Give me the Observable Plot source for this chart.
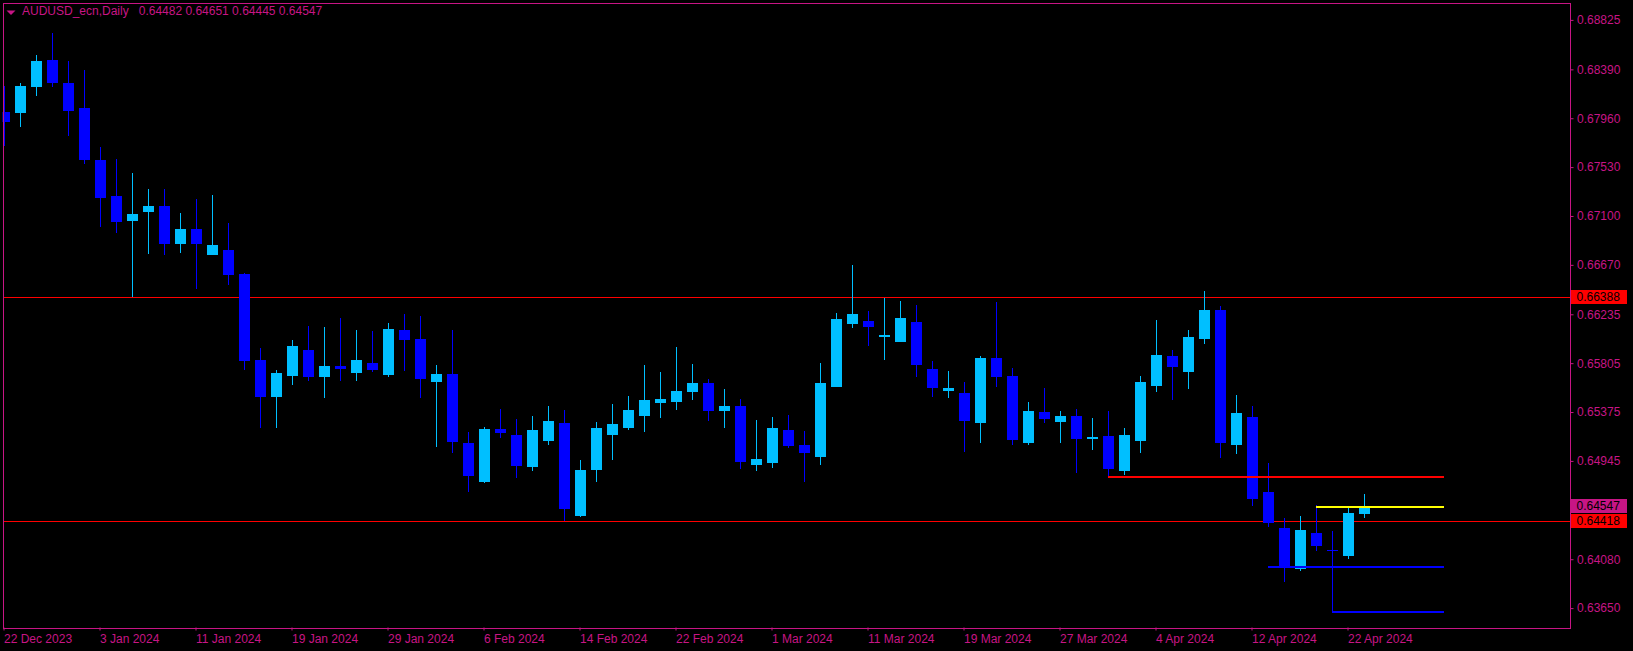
<!DOCTYPE html>
<html>
<head>
<meta charset="utf-8">
<script src="https://cdn.jsdelivr.net/npm/d3@7"></script>
<script src="https://cdn.jsdelivr.net/npm/@observablehq/plot@0.6"></script>
<style>
html, body { margin: 0; padding: 0; background: #000; overflow: hidden; }
svg { display: block; }
</style>
</head>
<body>
<script>
// ---------- data ----------
const symbol = "AUDUSD_ecn,Daily";

const dates = [
  "2023-12-22","2023-12-26","2023-12-27","2023-12-28","2023-12-29","2024-01-02","2024-01-03","2024-01-04","2024-01-05","2024-01-08",
  "2024-01-09","2024-01-10","2024-01-11","2024-01-12","2024-01-15","2024-01-16","2024-01-17","2024-01-18","2024-01-19","2024-01-22",
  "2024-01-23","2024-01-24","2024-01-25","2024-01-26","2024-01-29","2024-01-30","2024-01-31","2024-02-01","2024-02-02","2024-02-05",
  "2024-02-06","2024-02-07","2024-02-08","2024-02-09","2024-02-12","2024-02-13","2024-02-14","2024-02-15","2024-02-16","2024-02-19",
  "2024-02-20","2024-02-21","2024-02-22","2024-02-23","2024-02-26","2024-02-27","2024-02-28","2024-02-29","2024-03-01","2024-03-04",
  "2024-03-05","2024-03-06","2024-03-07","2024-03-08","2024-03-11","2024-03-12","2024-03-13","2024-03-14","2024-03-15","2024-03-18",
  "2024-03-19","2024-03-20","2024-03-21","2024-03-22","2024-03-25","2024-03-26","2024-03-27","2024-03-28","2024-03-29","2024-04-01",
  "2024-04-02","2024-04-03","2024-04-04","2024-04-05","2024-04-08","2024-04-09","2024-04-10","2024-04-11","2024-04-12","2024-04-15",
  "2024-04-16","2024-04-17","2024-04-18","2024-04-19","2024-04-22","2024-04-23"
];

const open = [
  0.68015,0.68008,0.68235,0.68472,0.68270,0.68050,0.67592,0.67276,0.67058,0.67137,
  0.67188,0.66856,0.66985,0.66759,0.66801,0.66589,0.65833,0.65507,0.65692,0.65921,
  0.65683,0.65780,0.65718,0.65806,0.65701,0.66097,0.66017,0.65639,0.65710,0.65102,
  0.64759,0.65226,0.65173,0.64891,0.65120,0.65278,0.64460,0.64865,0.65173,0.65234,
  0.65340,0.65454,0.65463,0.65551,0.65630,0.65384,0.65428,0.64909,0.64927,0.65217,
  0.65085,0.64979,0.65595,0.66149,0.66176,0.66035,0.65991,0.66167,0.65754,0.65560,
  0.65542,0.65278,0.65850,0.65692,0.65102,0.65375,0.65287,0.65340,0.65138,0.65164,
  0.64856,0.65120,0.65604,0.65868,0.65727,0.66017,0.66273,0.65085,0.65331,0.64671,
  0.64355,0.63994,0.64311,0.64165,0.64108,0.64482
];
const high = [
  0.68243,0.68272,0.68516,0.68712,0.68463,0.68384,0.67707,0.67601,0.67478,0.67337,
  0.67337,0.67126,0.67249,0.67284,0.67038,0.66596,0.65938,0.65745,0.66009,0.66132,
  0.66123,0.66202,0.66097,0.66088,0.66158,0.66237,0.66220,0.65789,0.66097,0.65199,
  0.65243,0.65402,0.65314,0.65340,0.65428,0.65393,0.64953,0.65287,0.65446,0.65516,
  0.65789,0.65727,0.65947,0.65798,0.65666,0.65578,0.65490,0.65305,0.65331,0.65349,
  0.65208,0.65806,0.66246,0.66669,0.66264,0.66378,0.66352,0.66317,0.65824,0.65736,
  0.65639,0.65868,0.66343,0.65762,0.65463,0.65586,0.65384,0.65402,0.65322,0.65384,
  0.65234,0.65692,0.66185,0.65921,0.66097,0.66440,0.66308,0.65525,0.65428,0.64927,
  0.64443,0.64460,0.64557,0.64328,0.64548,0.64651
];
const low = [
  0.67718,0.67885,0.68155,0.68237,0.67806,0.67560,0.67003,0.66953,0.66390,0.66768,
  0.66757,0.66777,0.66460,0.66755,0.66493,0.65745,0.65237,0.65235,0.65613,0.65648,
  0.65498,0.65648,0.65648,0.65727,0.65683,0.65736,0.65498,0.65067,0.65015,0.64671,
  0.64755,0.65146,0.64795,0.64856,0.65085,0.64416,0.64451,0.64759,0.64953,0.65217,
  0.65199,0.65322,0.65393,0.65481,0.65296,0.65234,0.64874,0.64856,0.64883,0.65058,
  0.64759,0.64909,0.65593,0.66114,0.65956,0.65833,0.65989,0.65683,0.65507,0.65498,
  0.65023,0.65102,0.65595,0.65085,0.65085,0.65278,0.65102,0.64839,0.65041,0.64803,
  0.64821,0.65015,0.65551,0.65481,0.65578,0.65973,0.64970,0.65006,0.64548,0.64363,
  0.63880,0.63976,0.64152,0.63616,0.64082,0.64445
];
const close = [
  0.67929,0.68243,0.68463,0.68270,0.68023,0.67595,0.67261,0.67049,0.67117,0.67188,
  0.66856,0.66985,0.66856,0.66844,0.66581,0.65824,0.65507,0.65718,0.65956,0.65683,
  0.65780,0.65754,0.65833,0.65745,0.66105,0.66009,0.65666,0.65710,0.65111,0.64812,
  0.65226,0.65190,0.64900,0.65217,0.65296,0.64522,0.64865,0.65234,0.65270,0.65393,
  0.65481,0.65490,0.65560,0.65630,0.65384,0.65428,0.64935,0.64962,0.65234,0.65076,
  0.65015,0.65630,0.66193,0.66237,0.66123,0.66053,0.66202,0.65789,0.65586,0.65586,
  0.65296,0.65850,0.65683,0.65129,0.65384,0.65314,0.65340,0.65138,0.65155,0.64874,
  0.65173,0.65639,0.65877,0.65771,0.66035,0.66273,0.65102,0.65366,0.64610,0.64399,
  0.64012,0.64337,0.64196,0.64150,0.64487,0.64547
];

// price axis tick labels (the 0.64515 label is hidden behind the price boxes in the original)
const yTicks = [0.68825,0.68390,0.67960,0.67530,0.67100,0.66670,0.66235,0.65805,0.65375,0.64945,0.64080,0.63650];

// full-width horizontal levels
const levels = [0.66388, 0.64418];

// drawn segments: price level and starting date (they run to the same end bar)
const segPrice = [0.64805, 0.64547, 0.64014, 0.63616];
const segStart = ["2024-04-01", "2024-04-18", "2024-04-15", "2024-04-19"];
const segEndBars = 5; // bars beyond the last candle

// ---------- build ----------
const UP = "#00BFFF", DOWN = "#0000FF", AXIS = "#C71585";
const rows = dates.map((d, i) => ({i, date: d, open: open[i], high: high[i], low: low[i], close: close[i], up: close[i] >= open[i]}));
const last = rows.length - 1;
const segColors = ["#FF0000", "#FFFF00", "#0000FF", "#0000FF"];
const segs = segPrice.map((p, j) => ({price: p, x1: dates.indexOf(segStart[j]), x2: last + segEndBars, color: segColors[j]}));
const fmtP = d3.format(".5f");
const fmtD = d3.utcFormat("%-d %b %Y");
const xTicks = d3.range(0, dates.length, 6);
const title = `${symbol}\u00a0\u00a0\u00a0${[open[last], high[last], low[last], close[last]].map(fmtP).join(" ")}`;

const priceBoxes = [
  {v: levels[0], fill: "#FF0000"},
  {v: close[last], fill: AXIS},
  {v: levels[1], fill: "#FF0000"}
];

const chart = Plot.plot({
  width: 1633,
  height: 651,
  marginLeft: 2.5,
  marginRight: 63.5,
  marginTop: 2.5,
  marginBottom: 23.5,
  style: {background: "#000", fontFamily: "'Liberation Sans', Arial, sans-serif", fontSize: "12px"},
  x: {type: "linear", domain: [-0.0625, 97.875]},
  y: {domain: [0.634794, 0.689781]},
  marks: [
    Plot.ruleY(levels, {y: d => d, stroke: "#FF0000", strokeWidth: 1, shapeRendering: "crispEdges"}),
    Plot.ruleX(rows, {x: "i", y1: "low", y2: "high", stroke: d => d.up ? UP : DOWN, strokeWidth: 1, shapeRendering: "crispEdges", clip: true}),
    Plot.ruleX(rows, {x: "i", y1: "open", y2: "close", stroke: d => d.up ? UP : DOWN, strokeWidth: 11, shapeRendering: "crispEdges", clip: true}),
    Plot.ruleY(segs, {y: "price", x1: "x1", x2: "x2", stroke: "color", strokeWidth: 2, shapeRendering: "crispEdges"}),
    Plot.axisY(yTicks, {anchor: "right", tickSize: 3, tickPadding: 4, tickFormat: fmtP, color: AXIS, fontSize: 12}),
    Plot.axisX(xTicks, {anchor: "bottom", tickSize: 3, tickPadding: 3, tickFormat: i => fmtD(new Date(dates[i])), textAnchor: "start", color: AXIS, fontSize: 12}),
    Plot.text([title], {frameAnchor: "top-left", dx: 19, dy: 3, lineAnchor: "top", textAnchor: "start", fill: AXIS, fontSize: 12}),
    (index, scales, values, dims) => {
      const g = d3.create("svg:g");
      // menu triangle before the title
      const tx = dims.marginLeft + 4, ty = dims.marginTop + 8;
      g.append("path").attr("d", `M${tx},${ty}h9l-4.5,4.5z`).attr("fill", AXIS);
      // price boxes on the right scale
      const x0 = dims.width - dims.marginRight + 1.5;
      for (const b of priceBoxes) {
        const yy = Math.round(scales.y(b.v));
        g.append("rect").attr("x", x0).attr("y", yy - 7).attr("width", 56).attr("height", 14).attr("fill", b.fill);
        g.append("text").attr("x", x0 + 5.5).attr("y", yy).attr("dy", "0.36em").attr("fill", "#000")
          .attr("text-anchor", "start").attr("font-size", 12).text(fmtP(b.v));
      }
      return g.node();
    },
    Plot.frame({stroke: AXIS, shapeRendering: "crispEdges"})
  ]
});
document.body.appendChild(chart);
</script>
</body>
</html>
